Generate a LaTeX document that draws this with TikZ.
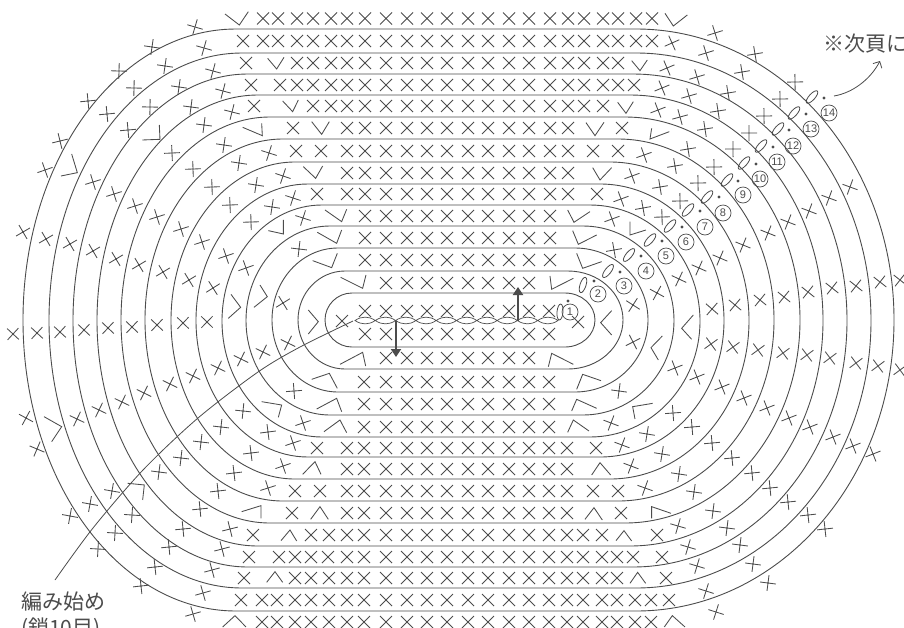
\documentclass[tikz,border=0pt]{standalone}
\usepackage{fontspec}
\usetikzlibrary{arrows.meta}
\newfontfamily\jpfont{Noto Sans CJK JP}
\setmainfont{Liberation Sans}
\definecolor{ink}{gray}{0.3}
\tikzset{
  stitch/.style={draw=ink,line width=0.85pt},
  ringline/.style={draw=ink,line width=0.9pt},
  lead/.style={draw=ink,line width=0.8pt},
  bigarrow/.style={draw=ink,line width=2.6pt,-{Triangle[length=8pt,width=10pt]}},
  roundno/.style={circle,draw=ink,line width=0.7pt,inner sep=0pt,minimum size=16pt,font=\fontsize{11}{11}\selectfont,text=ink},
  label/.style={font=\jpfont\fontsize{21}{21}\selectfont,text=ink,inner sep=0pt}
}
\newcommand\stc[2]{%
  \pgfmathsetmacro\cxx{ifthenelse(#1<450,355,565)}%
  \pgfmathsetmacro\ang{atan2(320-#2,#1-\cxx)+45}%
  \draw[stitch,shift={(#1,#2)},rotate=\ang] (-8,0)--(8,0) (0,-8)--(0,8);}
\newcommand\stx[2]{\draw[stitch,shift={(#1,#2)}] (-6,-6)--(6,6) (-6,6)--(6,-6);}
\newcommand\xrow[2]{\foreach \a in {#2} {\stx{\a}{#1}}}
\newcommand\core[1]{\xrow{#1}{386,407,427,447,468,488,509,529}}
\newcommand\pl[3]{\draw[stitch] #1--#2--#3;}
\newcommand\ring[6]{%
  \pgfmathsetmacro\cy{(#5+#6)/2}%
  \pgfmathsetmacro\lk{#1-0.5523*(#1-#3)}%
  \pgfmathsetmacro\rk{#2+0.5523*(#4-#2)}%
  \pgfmathsetmacro\tk{\cy-0.5523*(\cy-#5)}%
  \pgfmathsetmacro\bk{\cy+0.5523*(#6-\cy)}%
  \draw[ringline] (#1,#5)--(#2,#5) .. controls (\rk,#5) and (#4,\tk) .. (#4,\cy)
    .. controls (#4,\bk) and (\rk,#6) .. (#2,#6) -- (#1,#6)
    .. controls (\lk,#6) and (#3,\bk) .. (#3,\cy)
    .. controls (#3,\tk) and (\lk,#5) .. (#1,#5) -- cycle;}
\newcommand\ov[3]{\draw[draw=ink,line width=0.8pt,shift={(#1,#2)},rotate=#3] (0,0) ellipse[x radius=8pt,y radius=3pt];}
\newcommand\dotm[2]{\fill[ink] (#1,#2) circle[radius=1.7pt];}
\begin{document}
\begin{tikzpicture}[x=1pt,y=-1pt]
\fill[white] (0,0) rectangle (904,627);
\useasboundingbox (0,0) rectangle (904,627);
% rings
\ring{352}{565}{325}{595}{293}{347}
\ring{345}{568}{298}{623}{271}{369}
\ring{338}{575}{272}{648}{248}{392}
\ring{330}{583}{246}{674}{226}{415}
\ring{322}{590}{222}{700}{205}{437}
\ring{308}{600}{196}{724}{184}{457}
\ring{295}{610}{171}{749}{162}{479}
\ring{283}{618}{145}{774}{139}{501}
\ring{270}{625}{121}{800}{117}{523}
\ring{258}{630}{97}{823}{95}{546}
\ring{248}{633}{73}{847}{74}{567}
\ring{242}{636}{49}{871}{53}{588}
\ring{236}{636}{23}{894}{29}{611}
% straight rows, top
\core{18.5}\xrow{18.5}{263,278,297,313,331,347,365,550,568,584,603,618,636,652}
\core{41}\xrow{41}{243,263,278,297,313,331,347,365,550,568,584,603,618,636,652}
\core{63}\xrow{63}{246,297,313,331,347,365,550,568,584,603,618}
\core{85}\xrow{85}{251,280,297,313,331,347,365,550,568,584,603,618,634}
\core{106}\xrow{106}{254,313,331,347,365,550,568,584,603}
\core{128}\xrow{128}{293,347,365,550,568,622}
\core{151}\xrow{151}{296,321,347,365,550,568,593,618}
\core{173}\xrow{173}{347,365,550,568}
\core{194}\xrow{194}{317,347,365,550,568,597}
\core{216}\xrow{216}{365,550}
\core{238}\xrow{238}{365,550}
\core{260}\xrow{260}{365,550}
\core{283}
\core{311}\xrow{311}{365,549}
\core{334}\xrow{334}{365,549}
\stx{342}{321}\stx{578}{322}
% straight rows, bottom
\core{358}
\core{382}\xrow{382}{364,549}
\core{404}\xrow{404}{364,549}
\core{427}\xrow{427}{364,549}
\core{448}\xrow{448}{317,347,364,549,567,596}
\core{469}\xrow{469}{347,364,549,567}
\core{491}\xrow{491}{295,320,347,364,549,567,593,618}
\core{513}\xrow{513}{292,347,364,549,567,621}
\core{535}\xrow{535}{253,311,329,347,364,549,567,583,602,657}
\core{557}\xrow{557}{249,279,295,311,328,347,364,549,567,583,602,617,633,662}
\core{578}\xrow{578}{244,295,311,329,347,364,549,567,583,602,617,666}
\core{600}\xrow{600}{241,262,277,295,311,329,347,364,549,567,583,602,617,635,651,669}
\core{622}\xrow{622}{262,277,295,311,329,347,364,549,567,583,602,617,635,651}
% arc stitches
\foreach \p/\q in {195/27,152/47,119/71,88/101,60/141,45/170,23/232,204/48,165/66,134/88,107/114,
 213/71,179/87,150/107,128/130,223/91,191/107,232/112,204/125,224/145,172/153,193/169,212/187,230/205,239/163,
 269/153,256/185,283/176,272/207,293/198,251/222,303/218,299/249,226/256,246/268,202/242,181/229,157/217,135/206,114/194,93/182,
 46/239,70/244,93/251,116/259,139/265,163/272,189/280,213/288,283/303,
 13/334,37/333,60/332,84/330,108/328,132/327,157/325,183/323,207/322,
 288/343,263/352,241/359,218/368,193/376,170/384,144/393,122/402,99/410,77/419,26/418,37/449,
 294/391,303/423,268/432,243/411,293/443,251/453,221/427,201/442,181/458,159/472,234/473,283/466,268/488,218/491,112/491,
 90/504,70/516,132/515,115/533,98/549,183/529,200/509,230/529,169/547,222/549,155/567,212/570,141/586,203/593,193/614,
 715/33,755/54,795/82,706/53,742/72,780/99,697/77,728/93,764/116,689/96,718/111,749/133,680/117,705/129,733/149,
 688/149,714/167,675/166,698/183,660/187,680/201,644/155,632/176,621/199,643/208,662/217,612/219,614/250,
 633/305,657/293,679/279,699/268,720/258,743/245,768/233,788/222,809/211,829/198,850/187,
 712/309,735/305,760/300,784/297,808/292,832/288,856/286,880/282,900/280,
 633/342,711/344,733/347,758/350,783/353,807/355,830/358,856/363,878/366,900/370,
 675/368,697/377,722/387,744/398,767/408,789/418,810/427,833/437,853/446,873/454,
 619/391,611/423,673/413,647/434,692/427,622/445,662/454,712/443,631/466,732/458,679/474,752/473,
 770/488,694/492,645/488,788/502,713/511,808/515,825/529,727/528,678/526,740/545,688/547,753/564,697/566,768/583,706/591,716/612,
 672/43,667/68,662/88,658/110}
 {\stc{\p}{\q}}
% increase / decrease marks, read in zoomed coordinates
\begin{scope}[shift={(220,0)},x=0.3333pt,y=-0.3333pt]
\pl{(15,42)}{(58,75)}{(85,35)}\pl{(143,175)}{(170,207)}{(192,172)}\pl{(188,303)}{(218,335)}{(235,300)}
\pl{(68,382)}{(127,407)}{(125,370)}\pl{(275,365)}{(305,403)}{(328,365)}\pl{(250,500)}{(287,535)}{(308,498)}
\pl{(315,630)}{(365,665)}{(380,628)}\pl{(292,697)}{(350,730)}{(365,690)}\pl{(278,782)}{(335,803)}{(352,760)}
\pl{(362,832)}{(428,865)}{(438,825)}\pl{(145,692)}{(190,702)}{(190,660)}
\end{scope}
\begin{scope}[x=0.3333pt,y=-0.3333pt]
\pl{(427,420)}{(480,418)}{(478,375)}\pl{(183,528)}{(232,518)}{(215,462)}
\end{scope}
\begin{scope}[shift={(470,0)},x=0.3333pt,y=-0.3333pt]
\pl{(585,40)}{(610,78)}{(652,45)}\pl{(485,182)}{(510,212)}{(532,180)}\pl{(443,307)}{(468,340)}{(490,305)}
\pl{(348,368)}{(375,407)}{(402,367)}\pl{(545,385)}{(540,417)}{(598,395)}\pl{(368,503)}{(390,540)}{(425,503)}
\pl{(293,630)}{(312,667)}{(360,635)}\pl{(308,692)}{(325,733)}{(380,705)}\pl{(320,760)}{(338,805)}{(395,785)}
\pl{(240,828)}{(245,868)}{(310,835)}\pl{(480,665)}{(480,705)}{(528,690)}
\end{scope}
\begin{scope}[shift={(590,180)},x=0.3333pt,y=-0.3333pt]
\pl{(65,392)}{(32,428)}{(65,465)}\pl{(217,468)}{(183,503)}{(205,540)}\pl{(310,405)}{(275,445)}{(305,478)}
\end{scope}
\begin{scope}[shift={(0,200)},x=0.3333pt,y=-0.3333pt]
\pl{(693,283)}{(722,322)}{(685,355)}\pl{(780,255)}{(802,290)}{(762,322)}\pl{(925,330)}{(955,365)}{(925,402)}
\pl{(132,650)}{(185,680)}{(155,725)}\pl{(383,850)}{(433,855)}{(428,900)}
\end{scope}
\begin{scope}[shift={(220,340)},x=0.3333pt,y=-0.3333pt]
\pl{(360,73)}{(428,37)}{(437,78)}\pl{(275,118)}{(328,100)}{(352,145)}\pl{(290,207)}{(350,175)}{(365,215)}
\pl{(312,275)}{(360,240)}{(380,278)}\pl{(125,185)}{(185,195)}{(175,232)}\pl{(248,403)}{(285,365)}{(303,403)}
\pl{(65,515)}{(123,497)}{(123,535)}\pl{(272,538)}{(300,500)}{(325,538)}\pl{(183,602)}{(210,570)}{(230,603)}
\pl{(140,727)}{(165,695)}{(188,727)}\pl{(8,861)}{(45,827)}{(78,861)}
\end{scope}
\begin{scope}[shift={(470,340)},x=0.3333pt,y=-0.3333pt]
\pl{(235,80)}{(245,40)}{(310,73)}\pl{(320,148)}{(338,103)}{(393,122)}\pl{(305,213)}{(320,178)}{(380,205)}
\pl{(293,277)}{(310,240)}{(357,273)}\pl{(495,237)}{(488,200)}{(548,190)}\pl{(365,405)}{(390,368)}{(422,405)}
\pl{(345,538)}{(372,503)}{(397,540)}\pl{(545,535)}{(545,500)}{(603,520)}\pl{(438,602)}{(462,572)}{(485,603)}
\pl{(480,730)}{(503,697)}{(527,730)}\pl{(583,861)}{(607,827)}{(645,861)}
\end{scope}
% foundation chain
\foreach \i in {0,...,9} {
  \pgfmathsetmacro\ca{355+20.3*\i}
  \pgfmathsetmacro\cb{\ca+6.5}\pgfmathsetmacro\cc{\ca+13.8}\pgfmathsetmacro\cd{\ca+20.3}
  \draw[stitch,line width=0.7pt] (\ca,320.5) .. controls (\cb,316) and (\cc,316) .. (\cd,320.5)
     .. controls (\cc,325) and (\cb,325) .. (\ca,320.5) -- cycle;
}
% thick arrows
\coordinate (upA) at (518,321);\coordinate (upB) at (518,287);
\coordinate (dnA) at (396,321);\coordinate (dnB) at (396,357);
\draw[bigarrow] (upA)--(upB);
\draw[bigarrow] (dnA)--(dnB);
% chain ovals, joining dots, round numbers
\ov{560}{312}{85}\ov{583}{285}{72}\ov{608}{271}{52}\ov{629}{255}{50}\ov{650}{240}{48}\ov{670}{226}{48}
\ov{688}{210}{48}\ov{707}{197}{48}\ov{727}{180}{48}\ov{744}{163}{48}\ov{761}{146}{48}\ov{778}{129}{48}\ov{794}{113}{48}\ov{812}{97}{48}
\dotm{568}{301}\dotm{594}{281}\dotm{620}{272}\dotm{641}{256}\dotm{662}{241}\dotm{682}{227}\dotm{700}{211}\dotm{719}{197}
\dotm{738}{181}\dotm{756}{164}\dotm{773}{147}\dotm{789}{130}\dotm{806}{114}\dotm{824}{98}
\node[roundno] (r1) at (570,312) {1};
\node[roundno] (r2) at (598,294) {2};
\node[roundno] (r3) at (624,286) {3};
\node[roundno] (r4) at (646,271) {4};
\node[roundno] (r5) at (666,256) {5};
\node[roundno] (r6) at (686,242) {6};
\node[roundno] (r7) at (705,227) {7};
\node[roundno] (r8) at (723,213) {8};
\node[roundno] (r9) at (743,195) {9};
\node[roundno] (r10) at (760,179) {10};
\node[roundno] (r11) at (777,162) {11};
\node[roundno] (r12) at (793,146) {12};
\node[roundno] (r13) at (811,129) {13};
\node[roundno] (r14) at (829,113) {14};
% leader of the starting chain
\coordinate (leadA) at (353,321);
\coordinate (leadB) at (55,580);
\draw[lead] plot[smooth] coordinates {(leadA) (300,347) (258,372) (198,418) (143,470) (93,528) (leadB)};
% labels
\node[label,anchor=west] (nxt) at (823,44) {※次頁に};
\node[label,anchor=west] (st1) at (21,602) {編み始め};
\node[label,anchor=west] (st2) at (21,629) {(鎖10目)};
\coordinate (cA) at (834,96);
\coordinate (cB) at (880,61);
\draw[lead,-{Straight Barb[length=5pt,width=10pt]}] (cA) .. controls (852,93) and (870,80) .. (cB);
\end{tikzpicture}
\end{document}
